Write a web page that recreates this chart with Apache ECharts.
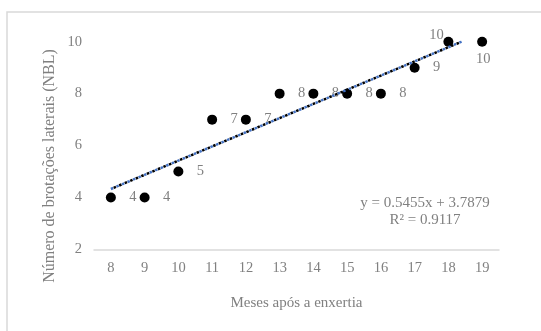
<!DOCTYPE html>
<html>
<head>
<meta charset="utf-8">
<script src="https://cdn.jsdelivr.net/npm/echarts@6/dist/echarts.min.js"></script>
<style>html,body{margin:0;padding:0;background:#fff;}#c{width:541px;height:331px;}</style>
</head>
<body>
<div id="c"></div>
<script>
var months = ['8','9','10','11','12','13','14','15','16','17','18','19'];
var nbl = [4, 4, 5, 7, 7, 8, 8, 8, 8, 9, 10, 10];
var trendX = [8, 18.39];
var trendY = [4.33, 10.0];
var yTicks = [2, 4, 6, 8, 10];
var equationText = ['y = 0.5455x + 3.7879', 'R² = 0.9117'];

var gray = '#808080';
var font = '"Liberation Serif", "Times New Roman", serif';
var labelOffsets = {10: [-12, -7], 11: [1, 17]};

var chart = echarts.init(document.getElementById('c'), null, {renderer: 'canvas'});
var scatterData = nbl.map(function (v, i) {
  return {
    value: [i, v],
    label: {offset: labelOffsets[i] || [22, 0]}
  };
});
var trendData = trendX.map(function (x, i) { return [x, trendY[i]]; });

chart.setOption({
  animation: false,
  backgroundColor: '#fff',
  grid: {left: 94, right: 42, top: 41.7, bottom: 81.5},
  xAxis: [{
    type: 'category',
    data: months,
    boundaryGap: true,
    axisLine: {show: true, lineStyle: {color: '#d9d9d9', width: 1.5}},
    axisTick: {show: false},
    axisLabel: {color: gray, fontFamily: font, fontSize: 14.5, margin: 11},
    name: 'Meses após a enxertia',
    nameLocation: 'middle',
    nameGap: 46,
    nameTextStyle: {color: gray, fontFamily: font, fontSize: 15}
  }, {
    type: 'value',
    min: 7.5,
    max: 19.5,
    show: false
  }],
  yAxis: {
    type: 'value',
    min: 2,
    max: 10,
    interval: 2,
    axisLine: {show: false},
    axisTick: {show: false},
    splitLine: {show: false},
    axisLabel: {color: gray, fontFamily: font, fontSize: 14.5, margin: 12,
      formatter: function (v) { return yTicks.indexOf(v) >= 0 ? String(v) : ''; }}
  },
  graphic: [
    {type: 'rect', shape: {x: 7, y: 12, width: 700, height: 500},
      style: {fill: null, stroke: '#d9d9d9', lineWidth: 1.5}, silent: true},
    {type: 'text', x: 50, y: 166, rotation: Math.PI / 2,
      style: {text: 'Número de brotações laterais (NBL)', fill: gray, font: '16px ' + font,
        align: 'center', verticalAlign: 'middle'}},
    {type: 'text', x: 425, y: 203,
      style: {text: equationText[0], fill: gray, font: '15px ' + font, align: 'center', verticalAlign: 'middle'}},
    {type: 'text', x: 425, y: 220,
      style: {text: equationText[1], fill: gray, font: '15px ' + font, align: 'center', verticalAlign: 'middle'}}
  ],
  series: [{
    type: 'scatter',
    xAxisIndex: 0,
    data: scatterData,
    symbol: 'circle',
    symbolSize: 10,
    itemStyle: {color: '#000', opacity: 1},
    label: {show: true, position: 'inside', color: gray, fontFamily: font, fontSize: 14.5,
      formatter: function (p) { return String(p.value[1]); }},
    z: 2
  }, {
    type: 'line',
    xAxisIndex: 1,
    data: trendData,
    showSymbol: false,
    symbol: 'none',
    lineStyle: {color: '#4472c4', width: 2.5, type: [2.5, 3.5], dashOffset: 0},
    z: 3
  }, {
    type: 'line',
    xAxisIndex: 1,
    data: trendData,
    showSymbol: false,
    symbol: 'none',
    lineStyle: {color: '#000', width: 2.5, type: [2.5, 3.5], dashOffset: 3},
    z: 4
  }]
});
</script>
</body>
</html>
